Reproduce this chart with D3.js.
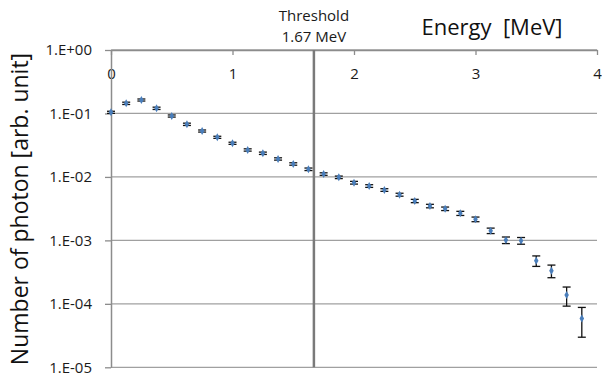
<!DOCTYPE html>
<meta charset="utf-8">
<script src="https://d3js.org/d3.v7.min.js"></script>
<style>
    body { margin: 0; background: #fff; }
    text { font-family: "Open Sans", Lato, sans-serif; }
</style>
<div id="chart"></div>
<script>
    var width = 602
    var height = 376

    // photon spectrum, 0.125 MeV bins
    var energy = [0, 0.125, 0.25, 0.375, 0.5, 0.625, 0.75, 0.875, 1, 1.125, 1.25, 1.375, 1.5, 1.625,
        1.75, 1.875, 2, 2.125, 2.25, 2.375, 2.5, 2.625, 2.75, 2.875, 3, 3.125, 3.25, 3.375, 3.5, 3.625, 3.75, 3.875]
    var photons = [0.1043, 0.1445, 0.163, 0.1206, 0.0912, 0.0675, 0.0529, 0.0421, 0.0339, 0.0266, 0.0236,
        0.0192, 0.0160, 0.0132, 0.0111, 0.00986, 0.00811, 0.00719, 0.00622, 0.00525, 0.00418, 0.00348,
        0.00315, 0.00267, 0.00215, 0.00142, 0.00101, 0.00099, 0.000479, 0.000333, 0.000138, 0.0000588]
    var errors = [0.004, 0.006, 0.006, 0.005, 0.0035, 0.0028, 0.002, 0.0016, 0.0013, 0.0011, 0.001,
        0.0008, 0.0007, 0.0006, 0.0005, 0.00045, 0.0004, 0.00035, 0.0003, 0.00028, 0.00025, 0.00022,
        0.0002, 0.0002, 0.00018, 0.00014, 0.00012, 0.00012, 0.00009, 0.000075, 0.000046, 0.000029]
    var xTicks = [0, 1, 2, 3, 4]
    var yTicks = [1, 1e-1, 1e-2, 1e-3, 1e-4, 1e-5]
    var yTickLabels = ["1.E+00", "1.E-01", "1.E-02", "1.E-03", "1.E-04", "1.E-05"]
    var threshold = 1.67

    var data = energy.map(function (e, i) {
        return { e: e, v: photons[i], err: errors[i] }
    })

    var svg = d3.select("#chart")
        .append("svg")
        .attr("width", width)
        .attr("height", height)

    var x = d3.scaleLinear().domain([0, 4]).range([111, 597])
    var y = d3.scaleLog().domain([1e-5, 1]).range([367.3, 50])

    // horizontal gridlines
    svg.append("g")
        .selectAll("line")
        .data(yTicks)
        .enter()
        .append("line")
        .attr("x1", x(0))
        .attr("x2", x(4))
        .attr("y1", function (d) { return y(d) })
        .attr("y2", function (d) { return y(d) })
        .attr("stroke", "#a0a0a0")
        .attr("stroke-width", 1.3)

    // top x axis
    var xAxis = svg.append("g")
        .attr("transform", "translate(0," + y(1) + ")")
        .call(d3.axisBottom(x).tickValues(xTicks).tickFormat(d3.format("d"))
            .tickSizeInner(5).tickSizeOuter(0).tickPadding(13))
    xAxis.select(".domain").attr("stroke", "#8c8c8c").attr("stroke-width", 1.3)
    xAxis.selectAll(".tick line").attr("stroke", "#8c8c8c").attr("stroke-width", 1.3)
    xAxis.selectAll("text").attr("font-size", 15).attr("fill", "#1a1a1a")

    // left y axis
    var yAxis = svg.append("g")
        .attr("transform", "translate(" + x(0) + ",0)")
        .call(d3.axisLeft(y).tickValues(yTicks)
            .tickFormat(function (d, i) { return yTickLabels[i] })
            .tickSizeInner(6).tickSizeOuter(0).tickPadding(13))
    yAxis.select(".domain").attr("stroke", "#8c8c8c").attr("stroke-width", 1.5)
    yAxis.selectAll(".tick line").attr("stroke", "#8c8c8c").attr("stroke-width", 1.3)
    yAxis.selectAll("text").attr("font-size", 15).attr("fill", "#1a1a1a")

    // threshold line
    svg.append("line")
        .attr("x1", x(threshold))
        .attr("x2", x(threshold))
        .attr("y1", y(1))
        .attr("y2", y(1e-5))
        .attr("stroke", "#7a7a7a")
        .attr("stroke-width", 2.5)

    svg.append("text")
        .attr("x", x(threshold))
        .attr("y", 21)
        .attr("text-anchor", "middle")
        .attr("font-size", 15)
        .attr("fill", "#1a1a1a")
        .text("Threshold")
    svg.append("text")
        .attr("x", x(threshold))
        .attr("y", 42)
        .attr("text-anchor", "middle")
        .attr("font-size", 15)
        .attr("fill", "#1a1a1a")
        .text(threshold + " MeV")

    // axis titles
    svg.append("text")
        .attr("x", 492)
        .attr("y", 35)
        .attr("text-anchor", "middle")
        .attr("font-size", 22)
        .attr("fill", "#111")
        .style("white-space", "pre")
        .text("Energy  [MeV]")
    svg.append("text")
        .attr("transform", "translate(28,209) rotate(-90)")
        .attr("text-anchor", "middle")
        .attr("font-size", 23)
        .attr("fill", "#111")
        .text("Number of photon [arb. unit]")

    // error bars
    var bars = svg.append("g")
        .selectAll("g")
        .data(data)
        .enter()
        .append("g")
        .attr("stroke", "#111")
        .attr("stroke-width", 1.3)
    bars.append("line")
        .attr("x1", function (d) { return x(d.e) })
        .attr("x2", function (d) { return x(d.e) })
        .attr("y1", function (d) { return y(d.v + d.err) })
        .attr("y2", function (d) { return y(d.v - d.err) })
    bars.append("line")
        .attr("x1", function (d) { return x(d.e) - 4 })
        .attr("x2", function (d) { return x(d.e) + 4 })
        .attr("y1", function (d) { return y(d.v + d.err) })
        .attr("y2", function (d) { return y(d.v + d.err) })
    bars.append("line")
        .attr("x1", function (d) { return x(d.e) - 4 })
        .attr("x2", function (d) { return x(d.e) + 4 })
        .attr("y1", function (d) { return y(d.v - d.err) })
        .attr("y2", function (d) { return y(d.v - d.err) })

    // markers
    svg.append("g")
        .selectAll("path")
        .data(data)
        .enter()
        .append("path")
        .attr("d", d3.symbol().type(d3.symbolDiamond).size(18))
        .attr("transform", function (d) { return "translate(" + x(d.e) + "," + y(d.v) + ")" })
        .attr("fill", "#4a7ebb")
</script>
